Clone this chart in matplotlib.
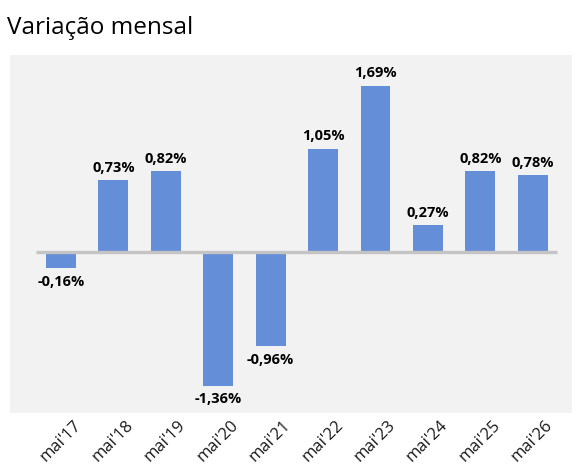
import matplotlib.pyplot as plt
import matplotlib.transforms as mtransforms

# dados
meses = ["mai'17", "mai'18", "mai'19", "mai'20", "mai'21",
         "mai'22", "mai'23", "mai'24", "mai'25", "mai'26"]
variacao = [-0.16, 0.73, 0.82, -1.36, -0.96, 1.05, 1.69, 0.27, 0.82, 0.78]
rotulos = ["-0,16%", "0,73%", "0,82%", "-1,36%", "-0,96%",
           "1,05%", "1,69%", "0,27%", "0,82%", "0,78%"]

plt.rcParams['font.family'] = ['Open Sans', 'DejaVu Sans']

fig = plt.figure(figsize=(5.77, 4.7), dpi=100)
ax = fig.add_axes([10/577, 57/470, 562/577, 358/470])
ax.set_facecolor('#f2f2f2')

x = list(range(len(meses)))
ax.bar(x, variacao, width=0.57, color='#648ed8', zorder=2)
ax.hlines(0, -0.47, 9.47, color='#c4c4c4', lw=2.4, zorder=3)

for xi, v, r in zip(x, variacao, rotulos):
    if v >= 0:
        ax.annotate(r, (xi, v), xytext=(0, 4), textcoords='offset points',
                    ha='center', va='bottom', fontsize=10.5, fontweight='bold')
    else:
        ax.annotate(r, (xi, v), xytext=(0, -5), textcoords='offset points',
                    ha='center', va='top', fontsize=10.5, fontweight='bold')

ax.set_xlim(-0.973, 9.75)
ax.set_ylim(-1.64, 2.006)
ax.set_yticks([])
ax.set_xticks(x)
ax.set_xticklabels(meses, rotation=45, ha='right', rotation_mode='anchor',
                   fontsize=12, color='#1a1a1a')
ax.tick_params(axis='x', length=0, pad=3)
desloc = mtransforms.ScaledTranslation(12/100, 0, fig.dpi_scale_trans)
for lbl in ax.get_xticklabels():
    lbl.set_transform(lbl.get_transform() + desloc)
for s in ax.spines.values():
    s.set_visible(False)

fig.text(7/577, 1 - 28/470, 'Variação mensal', fontsize=17.5, va='center', ha='left')

fig.savefig('out.png', dpi=100)
